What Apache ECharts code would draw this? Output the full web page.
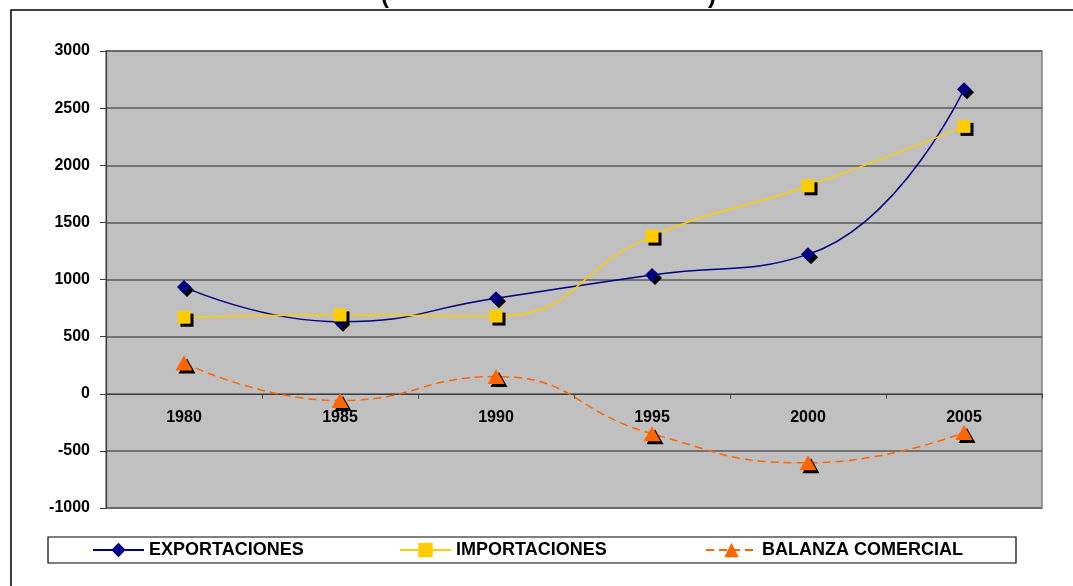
<!DOCTYPE html>
<html>
<head>
<meta charset="utf-8">
<script src="https://cdn.jsdelivr.net/npm/echarts@6/dist/echarts.min.js"></script>
<style>
  html, body { margin: 0; padding: 0; background: #fff; }
  #chart { width: 1073px; height: 586px; }
</style>
</head>
<body>
<div id="chart"></div>
<script>
const years = ['1980', '1985', '1990', '1995', '2000', '2005']
const exportaciones = [935, 630, 835, 1040, 1220, 2665]
const importaciones = [670, 690, 680, 1380, 1820, 2340]
const balanza = [270, -60, 150, -350, -605, -340]

const labelFont = 'Liberation Sans, Arial, sans-serif'
const markerShadow = {
  shadowColor: '#000',
  shadowBlur: 0,
  shadowOffsetX: 3,
  shadowOffsetY: 3
}

const chart = echarts.init(document.getElementById('chart'))

const legendBase = {
  top: 541,
  padding: 0,
  itemWidth: 51,
  itemHeight: 18,
  itemGap: 5,
  textStyle: { color: '#000', fontSize: 18, fontWeight: 'bold', fontFamily: labelFont },
  itemStyle: { shadowColor: 'rgba(0,0,0,0)' }
}

const option = {
  animation: false,
  backgroundColor: '#fff',
  graphic: [
    {
      type: 'rect',
      shape: { x: 11, y: 10, width: 1100, height: 620 },
      style: { fill: 'none', stroke: '#000', lineWidth: 1.5 },
      z: 0
    },
    {
      type: 'rect',
      shape: { x: 48, y: 537, width: 968, height: 26 },
      style: { fill: '#fff', stroke: '#000', lineWidth: 1.2 },
      z: 0
    },
    {
      type: 'text',
      left: 381,
      top: -16,
      style: { text: '(', font: 'bold 24px Liberation Sans', fill: '#000' }
    },
    {
      type: 'text',
      left: 708,
      top: -16,
      style: { text: ')', font: 'bold 24px Liberation Sans', fill: '#000' }
    }
  ],
  legend: [
    Object.assign({ left: 92, data: ['EXPORTACIONES'] }, legendBase),
    Object.assign({ left: 399, data: ['IMPORTACIONES'] }, legendBase),
    Object.assign({ left: 705, data: ['BALANZA COMERCIAL'] }, legendBase)
  ],
  grid: {
    left: 106,
    right: 31,
    top: 51,
    bottom: 78,
    show: true,
    backgroundColor: '#C0C0C0',
    borderColor: '#808080',
    borderWidth: 1.5
  },
  xAxis: {
    type: 'category',
    data: years,
    boundaryGap: true,
    axisLine: { onZero: true, lineStyle: { color: '#404040', width: 1.2 } },
    axisTick: { show: true, length: 5, lineStyle: { color: '#404040' } },
    axisLabel: {
      margin: -98,
      color: '#000',
      fontSize: 16,
      fontWeight: 'bold',
      fontFamily: labelFont
    },
    splitLine: { show: false }
  },
  yAxis: {
    type: 'value',
    min: -1000,
    max: 3000,
    interval: 500,
    axisLine: { show: true, lineStyle: { color: '#404040', width: 1.2 } },
    axisTick: { show: true, length: 6, lineStyle: { color: '#404040' } },
    axisLabel: {
      margin: 16,
      color: '#000',
      fontSize: 16,
      fontWeight: 'bold',
      fontFamily: labelFont,
      formatter: (v) => String(v)
    },
    splitLine: { lineStyle: { color: '#5a5a5a', width: 1.5 } }
  },
  series: [
    {
      name: 'EXPORTACIONES',
      type: 'line',
      data: exportaciones,
      smooth: 0.5,
      symbol: 'diamond',
      symbolSize: [14, 14],
      lineStyle: { color: '#000080', width: 1.5 },
      itemStyle: Object.assign({ color: '#000080' }, markerShadow),
      z: 3
    },
    {
      name: 'IMPORTACIONES',
      type: 'line',
      data: importaciones,
      smooth: 0.5,
      symbol: 'rect',
      symbolSize: 13,
      lineStyle: { color: '#FFCC00', width: 1.5 },
      itemStyle: Object.assign({ color: '#FFCC00' }, markerShadow),
      z: 4
    },
    {
      name: 'BALANZA COMERCIAL',
      type: 'line',
      data: balanza,
      smooth: 0.5,
      symbol: 'triangle',
      symbolSize: [17, 15],
      lineStyle: { color: '#FF6600', width: 1.5, type: [8, 5] },
      itemStyle: Object.assign({ color: '#FF6600' }, markerShadow),
      z: 5
    }
  ]
}

chart.setOption(option)
</script>
</body>
</html>
